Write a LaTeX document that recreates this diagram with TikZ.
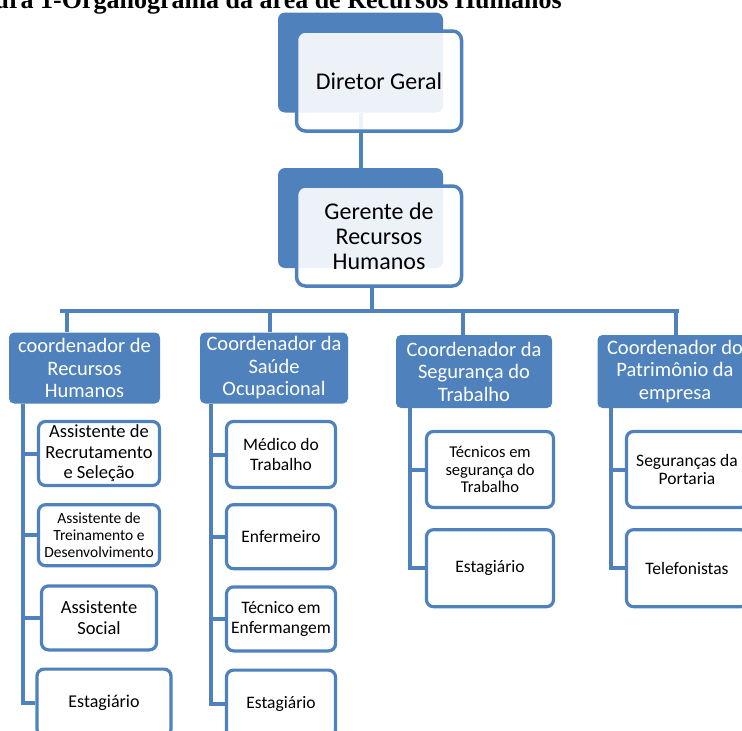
\documentclass[tikz,border=0pt]{standalone}
\usepackage{fontspec}
\setmainfont{Carlito}
\newfontfamily\titlefont{Liberation Serif}
\usetikzlibrary{positioning}
\definecolor{office}{HTML}{4F81BD}

\begin{document}
\begin{tikzpicture}[x=1pt,y=-1pt,
    back/.style={fill=office,rounded corners=7pt,minimum width=165pt,minimum height=100pt},
    front/.style={draw=office,line width=3.5pt,fill=white,fill opacity=0.9,text opacity=1,rounded corners=9pt,minimum width=165pt,minimum height=100pt,align=center,font=\fontsize{24}{25}\selectfont},
    coord/.style={fill=office,rounded corners=5pt,text=white,align=center,inner sep=0pt,minimum height=71pt,font=\fontsize{20.5}{22.5}\selectfont},
    staff/.style={draw=office,line width=3.2pt,fill=white,rounded corners=7pt,align=center,inner sep=0pt,font=\fontsize{17.5}{19.5}\selectfont},
    link/.style={draw=office,line width=4pt}]
  \useasboundingbox (0,0) rectangle (742,731);
  \clip (0,0) rectangle (742,731);

  \node[anchor=base east,inner sep=0pt,font=\titlefont\bfseries\fontsize{26}{30}\selectfont] (title) at (562,8) {Figura 1-Organograma da área de Recursos Humanos};

  \node[back] (dirback) at (360.5,62.5) {}; \node[back] (gerback) at (360.5,218) {};
  \draw[link] (dirback.south) -- (gerback.north);
  \node[front] (dir) at (379,81) {Diretor Geral};
  \node[front] (ger) at (379,236) {Gerente de\\Recursos\\Humanos};

  \coordinate (busl) at (60,311); \coordinate (busr) at (679,311);
  \draw[link,line width=3.5pt] (busl) -- (busr);
  \draw[link] ([xshift=-7pt]ger.south) -- ([xshift=-7pt]ger.south |- busl);

  \node[coord,minimum width=151pt] (rh) at (84.5,368) {coordenador de\\Recursos\\Humanos};
  \node[coord,minimum width=148pt] (saude) at (274,368) {Coordenador da\\Saúde\\Ocupacional};
  \node[coord,minimum width=156pt,minimum height=73pt] (seg) at (474,371.5) {Coordenador da\\Segurança do\\Trabalho};
  \node[coord,minimum width=155pt,minimum height=73pt] (patr) at (675,371.5) {Coordenador do\\Patrimônio da\\empresa};

  \draw[link] ([xshift=-17.5pt]rh.north) -- ([xshift=-17.5pt]rh.north |- busl);
  \draw[link] ([xshift=-4pt]saude.north) -- ([xshift=-4pt]saude.north |- busl);
  \draw[link] ([xshift=-11pt]seg.north) -- ([xshift=-11pt]seg.north |- busl);
  \draw[link] ([xshift=1pt]patr.north) -- ([xshift=1pt]patr.north |- busl);

  \node[staff,minimum width=121pt,minimum height=64pt,font=\fontsize{18.5}{20.5}\selectfont] (recr) at (99,453.5) {Assistente de\\Recrutamento\\e Seleção};
  \node[staff,minimum width=121pt,minimum height=61pt,below=16pt of recr,font=\fontsize{15.5}{16.8}\selectfont] (trein) {Assistente de\\Treinamento e\\Desenvolvimento};
  \node[staff,minimum width=115pt,minimum height=64pt,below=17pt of trein,font=\fontsize{18.5}{21}\selectfont] (social) {Assistente\\Social};
  \node[staff,minimum width=134pt,minimum height=67pt,below=16pt of social,xshift=5pt,font=\fontsize{18}{20}\selectfont] (estag1) {Estagiário};

  \node[staff,minimum width=109pt,minimum height=66pt] (medico) at (281,454.5) {Médico do\\Trabalho};
  \node[staff,minimum width=109pt,minimum height=64pt,below=14pt of medico] (enf) {Enfermeiro};
  \node[staff,minimum width=109pt,minimum height=64pt,below=15pt of enf] (tecenf) {Técnico em\\Enfermangem};
  \node[staff,minimum width=109pt,minimum height=67pt,below=16pt of tecenf] (estag2) {Estagiário};

  \node[staff,minimum width=127pt,minimum height=76pt,font=\fontsize{16.5}{17.5}\selectfont] (tecseg) at (490,469.5) {Técnicos em\\segurança do\\Trabalho};
  \node[staff,minimum width=127pt,minimum height=77pt,below=19pt of tecseg] (estag3) {Estagiário};

  \node[staff,minimum width=121pt,minimum height=76pt,font=\fontsize{17.5}{18}\selectfont] (portaria) at (687,469.5) {Seguranças da\\Portaria};
  \node[staff,minimum width=121pt,minimum height=77pt,below=19pt of portaria] (telef) {Telefonistas};

  \foreach \c in {recr,trein,social,estag1} \draw[link] ([xshift=14pt]rh.south west) |- (\c.west);
  \foreach \c in {medico,enf,tecenf,estag2} \draw[link] ([xshift=11pt]saude.south west) |- (\c.west);
  \foreach \c in {tecseg,estag3} \draw[link] ([xshift=14pt]seg.south west) |- (\c.west);
  \foreach \c in {portaria,telef} \draw[link] ([xshift=13.5pt]patr.south west) |- (\c.west);
\end{tikzpicture}
\end{document}
